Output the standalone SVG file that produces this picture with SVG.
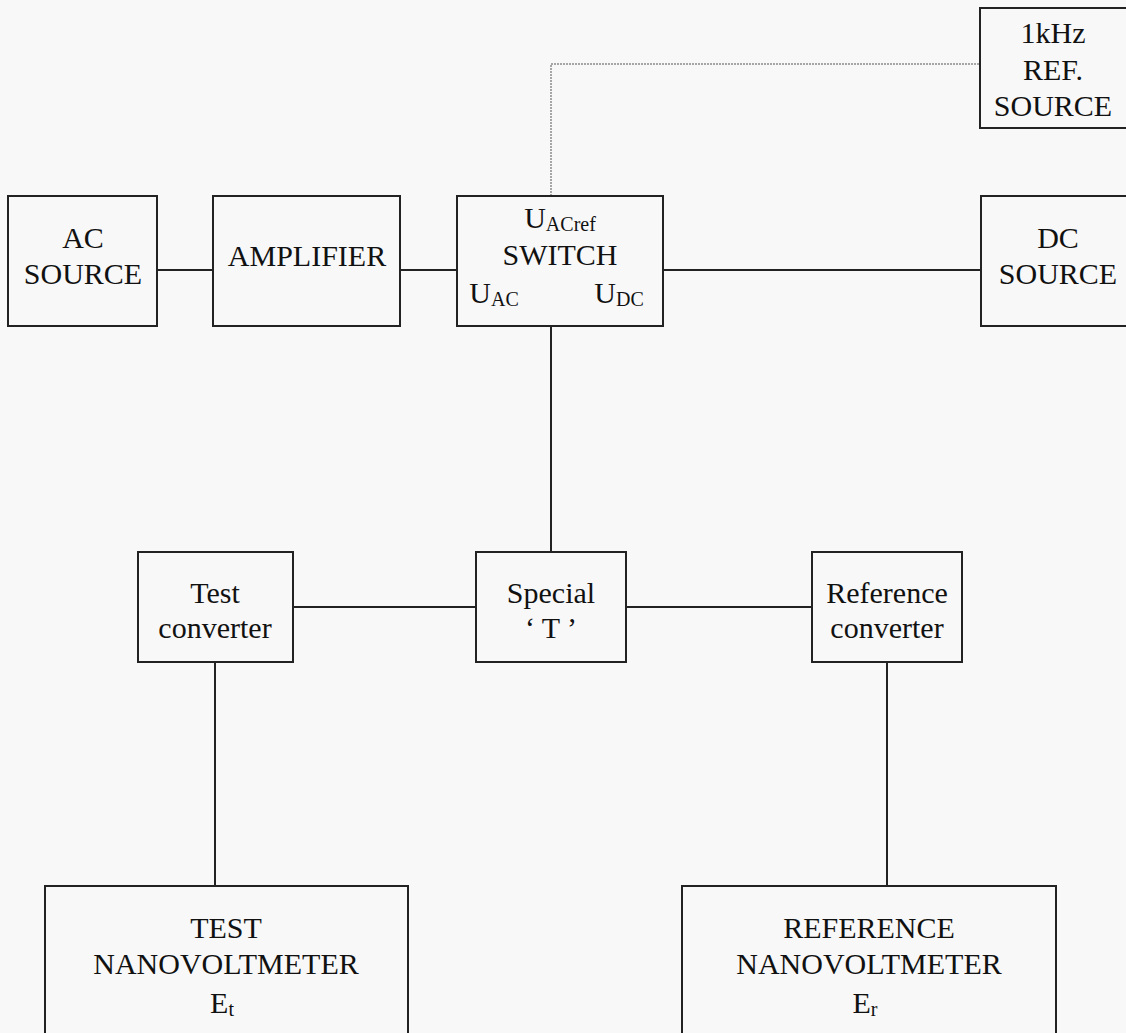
<svg xmlns="http://www.w3.org/2000/svg" width="1126" height="1033" viewBox="0 0 1126 1033">
  <style>
    .box { fill: none; stroke: #222; stroke-width: 2; }
    .wire { fill: none; stroke: #222; stroke-width: 2; }
    .ref { fill: none; stroke: #8a8a8a; stroke-width: 1.5; stroke-dasharray: 2 1; }
    text { font-family: "Liberation Serif", "Times New Roman", serif; font-size: 30px; fill: #111; text-anchor: middle; }
    .sub { font-size: 20px; }
  </style>
  <rect width="1126" height="1033" fill="#f8f8f8"/>

  <g id="connectors">
    <line class="wire" x1="157" y1="270" x2="213" y2="270"/>
    <line class="wire" x1="400" y1="270" x2="457" y2="270"/>
    <line class="wire" x1="663" y1="270" x2="981" y2="270"/>
    <line class="wire" x1="551" y1="326" x2="551" y2="552"/>
    <line class="wire" x1="293" y1="607" x2="476" y2="607"/>
    <line class="wire" x1="626" y1="607" x2="812" y2="607"/>
    <line class="wire" x1="215" y1="662" x2="215" y2="886"/>
    <line class="wire" x1="887" y1="662" x2="887" y2="886"/>
    <polyline class="ref" points="551,196 551,64 980,64"/>
  </g>

  <g id="ref-source">
    <rect class="box" x="980" y="8" width="160" height="120"/>
    <text x="1053" y="43">1kHz</text>
    <text x="1053" y="80">REF.</text>
    <text x="1053" y="116">SOURCE</text>
  </g>

  <g id="ac-source">
    <rect class="box" x="8" y="196" width="149" height="130"/>
    <text x="83" y="248">AC</text>
    <text x="83" y="284">SOURCE</text>
  </g>

  <g id="amplifier">
    <rect class="box" x="213" y="196" width="187" height="130"/>
    <text x="307" y="266">AMPLIFIER</text>
  </g>

  <g id="switch">
    <rect class="box" x="457" y="196" width="206" height="130"/>
    <text x="560" y="228">U<tspan class="sub" dy="3">ACref</tspan></text>
    <text x="560" y="265">SWITCH</text>
    <text x="494" y="303">U<tspan class="sub" dy="3">AC</tspan></text>
    <text x="619" y="303">U<tspan class="sub" dy="3">DC</tspan></text>
  </g>

  <g id="dc-source">
    <rect class="box" x="981" y="196" width="160" height="130"/>
    <text x="1058" y="248">DC</text>
    <text x="1058" y="284">SOURCE</text>
  </g>

  <g id="test-converter">
    <rect class="box" x="138" y="552" width="155" height="110"/>
    <text x="215" y="603">Test</text>
    <text x="215" y="638">converter</text>
  </g>

  <g id="special-t">
    <rect class="box" x="476" y="552" width="150" height="110"/>
    <text x="551" y="603">Special</text>
    <text x="551" y="638">‘ T ’</text>
  </g>

  <g id="reference-converter">
    <rect class="box" x="812" y="552" width="150" height="110"/>
    <text x="887" y="603">Reference</text>
    <text x="887" y="638">converter</text>
  </g>

  <g id="test-nanovoltmeter">
    <rect class="box" x="45" y="886" width="363" height="160"/>
    <text x="226" y="938">TEST</text>
    <text x="226" y="974">NANOVOLTMETER</text>
    <text x="222" y="1013">E<tspan class="sub" dy="3">t</tspan></text>
  </g>

  <g id="reference-nanovoltmeter">
    <rect class="box" x="682" y="886" width="374" height="160"/>
    <text x="869" y="938">REFERENCE</text>
    <text x="869" y="974">NANOVOLTMETER</text>
    <text x="865" y="1013">E<tspan class="sub" dy="3">r</tspan></text>
  </g>
</svg>
